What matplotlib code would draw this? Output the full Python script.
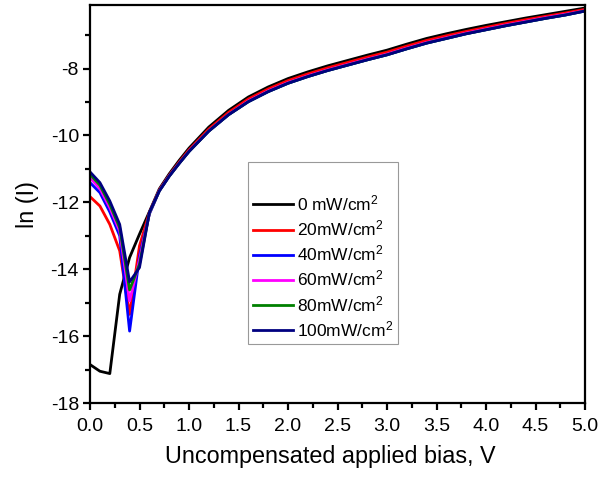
import numpy as np
import matplotlib
matplotlib.use("Agg")
import matplotlib.pyplot as plt
from matplotlib.ticker import MultipleLocator

plt.rcParams["font.family"] = ["Liberation Sans", "DejaVu Sans"]
plt.rcParams["mathtext.fontset"] = "custom"
plt.rcParams["mathtext.rm"] = "Liberation Sans"
plt.rcParams["mathtext.it"] = "Liberation Sans"

# bias grid (V)
bias = [0.0, 0.1, 0.2, 0.3, 0.4, 0.5, 0.6, 0.7, 0.8, 0.9, 1.0,
        1.2, 1.4, 1.6, 1.8, 2.0, 2.2, 2.4, 2.6, 2.8, 3.0,
        3.2, 3.4, 3.6, 3.8, 4.0, 4.2, 4.4, 4.6, 4.8, 5.0]

# ln(I) for each illumination intensity
ln_i_0 = [-16.85, -17.05, -17.12, -14.75, -13.65, -12.95, -12.28, -11.60, -11.15, -10.75, -10.38,
          -9.75, -9.25, -8.85, -8.55, -8.30, -8.10, -7.92, -7.76, -7.60, -7.45,
          -7.27, -7.10, -6.96, -6.83, -6.71, -6.60, -6.49, -6.39, -6.29, -6.19]
ln_i_20 = [-11.83, -12.11, -12.66, -13.45, -15.35, -13.30, -12.30, -11.63, -11.19, -10.80, -10.43,
           -9.81, -9.31, -8.91, -8.61, -8.36, -8.16, -7.98, -7.82, -7.66, -7.51,
           -7.33, -7.16, -7.02, -6.89, -6.77, -6.65, -6.54, -6.44, -6.34, -6.23]
ln_i_40 = [-11.41, -11.71, -12.29, -13.00, -15.85, -13.60, -12.35, -11.66, -11.22, -10.84, -10.48,
           -9.87, -9.38, -8.99, -8.69, -8.44, -8.24, -8.06, -7.90, -7.74, -7.59,
           -7.41, -7.24, -7.10, -6.96, -6.84, -6.72, -6.61, -6.50, -6.40, -6.28]
ln_i_60 = [-11.26, -11.59, -12.16, -12.86, -14.95, -13.72, -12.33, -11.65, -11.21, -10.83, -10.47,
           -9.86, -9.37, -8.97, -8.67, -8.42, -8.22, -8.04, -7.88, -7.72, -7.57,
           -7.39, -7.22, -7.08, -6.94, -6.82, -6.70, -6.59, -6.48, -6.38, -6.27]
ln_i_80 = [-11.16, -11.49, -12.06, -12.76, -14.62, -13.85, -12.32, -11.66, -11.22, -10.84, -10.48,
           -9.87, -9.38, -8.99, -8.69, -8.44, -8.24, -8.06, -7.90, -7.74, -7.59,
           -7.41, -7.24, -7.10, -6.96, -6.84, -6.72, -6.61, -6.50, -6.40, -6.28]
ln_i_100 = [-11.09, -11.41, -11.96, -12.66, -14.38, -13.95, -12.30, -11.66, -11.22, -10.84, -10.48,
            -9.87, -9.38, -8.99, -8.69, -8.44, -8.24, -8.06, -7.90, -7.74, -7.59,
            -7.41, -7.24, -7.10, -6.96, -6.84, -6.72, -6.61, -6.50, -6.40, -6.28]

labels = ["0 mW/cm$^2$", "20mW/cm$^2$", "40mW/cm$^2$", "60mW/cm$^2$", "80mW/cm$^2$", "100mW/cm$^2$"]
colors = ["black", "#ff0000", "#0000ff", "#ff00ff", "#008000", "#000080"]
series = [ln_i_0, ln_i_20, ln_i_40, ln_i_60, ln_i_80, ln_i_100]

fig = plt.figure(figsize=(6.02, 4.80), dpi=100)
ax = fig.add_axes([0.1495, 0.1604, 0.8223, 0.8292])

for y, c, lab in zip(series, colors, labels):
    ax.plot(bias, y, color=c, linewidth=2.0, label=lab)

ax.set_xlim(0, 5.0)
ax.set_ylim(-18, -6.1)
ax.xaxis.set_major_locator(MultipleLocator(0.5))
ax.xaxis.set_minor_locator(MultipleLocator(0.25))
ax.yaxis.set_major_locator(MultipleLocator(2))
ax.yaxis.set_minor_locator(MultipleLocator(1))
ax.xaxis.set_major_formatter(plt.FuncFormatter(lambda v, p: f"{v:.1f}"))
ax.yaxis.set_major_formatter(plt.FuncFormatter(lambda v, p: f"{v:.0f}"))

for s in ax.spines.values():
    s.set_linewidth(1.6)
ax.tick_params(which="major", direction="out", length=5, width=1.6, labelsize=14,
               pad=3, top=False, right=False)
ax.tick_params(axis="x", which="major", pad=6)
ax.tick_params(which="minor", direction="out", length=3.5, width=1.6, top=False, right=False)

ax.set_xlabel("Uncompensated applied bias, V", fontsize=16.8, labelpad=13)
ax.xaxis.set_label_coords(0.486, -0.105, transform=ax.transAxes)
ax.xaxis.label.set_va("top")
ax.set_ylabel("ln (I)", fontsize=16.8, labelpad=8)

# blank title line leaves the empty band at the top of the legend box
leg = ax.legend(loc="upper left", bbox_to_anchor=(0.319, 0.605), fontsize=12.5,
                title=" ", title_fontsize=16, frameon=True, fancybox=False,
                edgecolor="#808080", handlelength=2.3, handletextpad=0.2,
                labelspacing=0.3, borderpad=0.3, borderaxespad=0)
leg.get_frame().set_linewidth(0.8)

fig.savefig("out.png", dpi=100)
